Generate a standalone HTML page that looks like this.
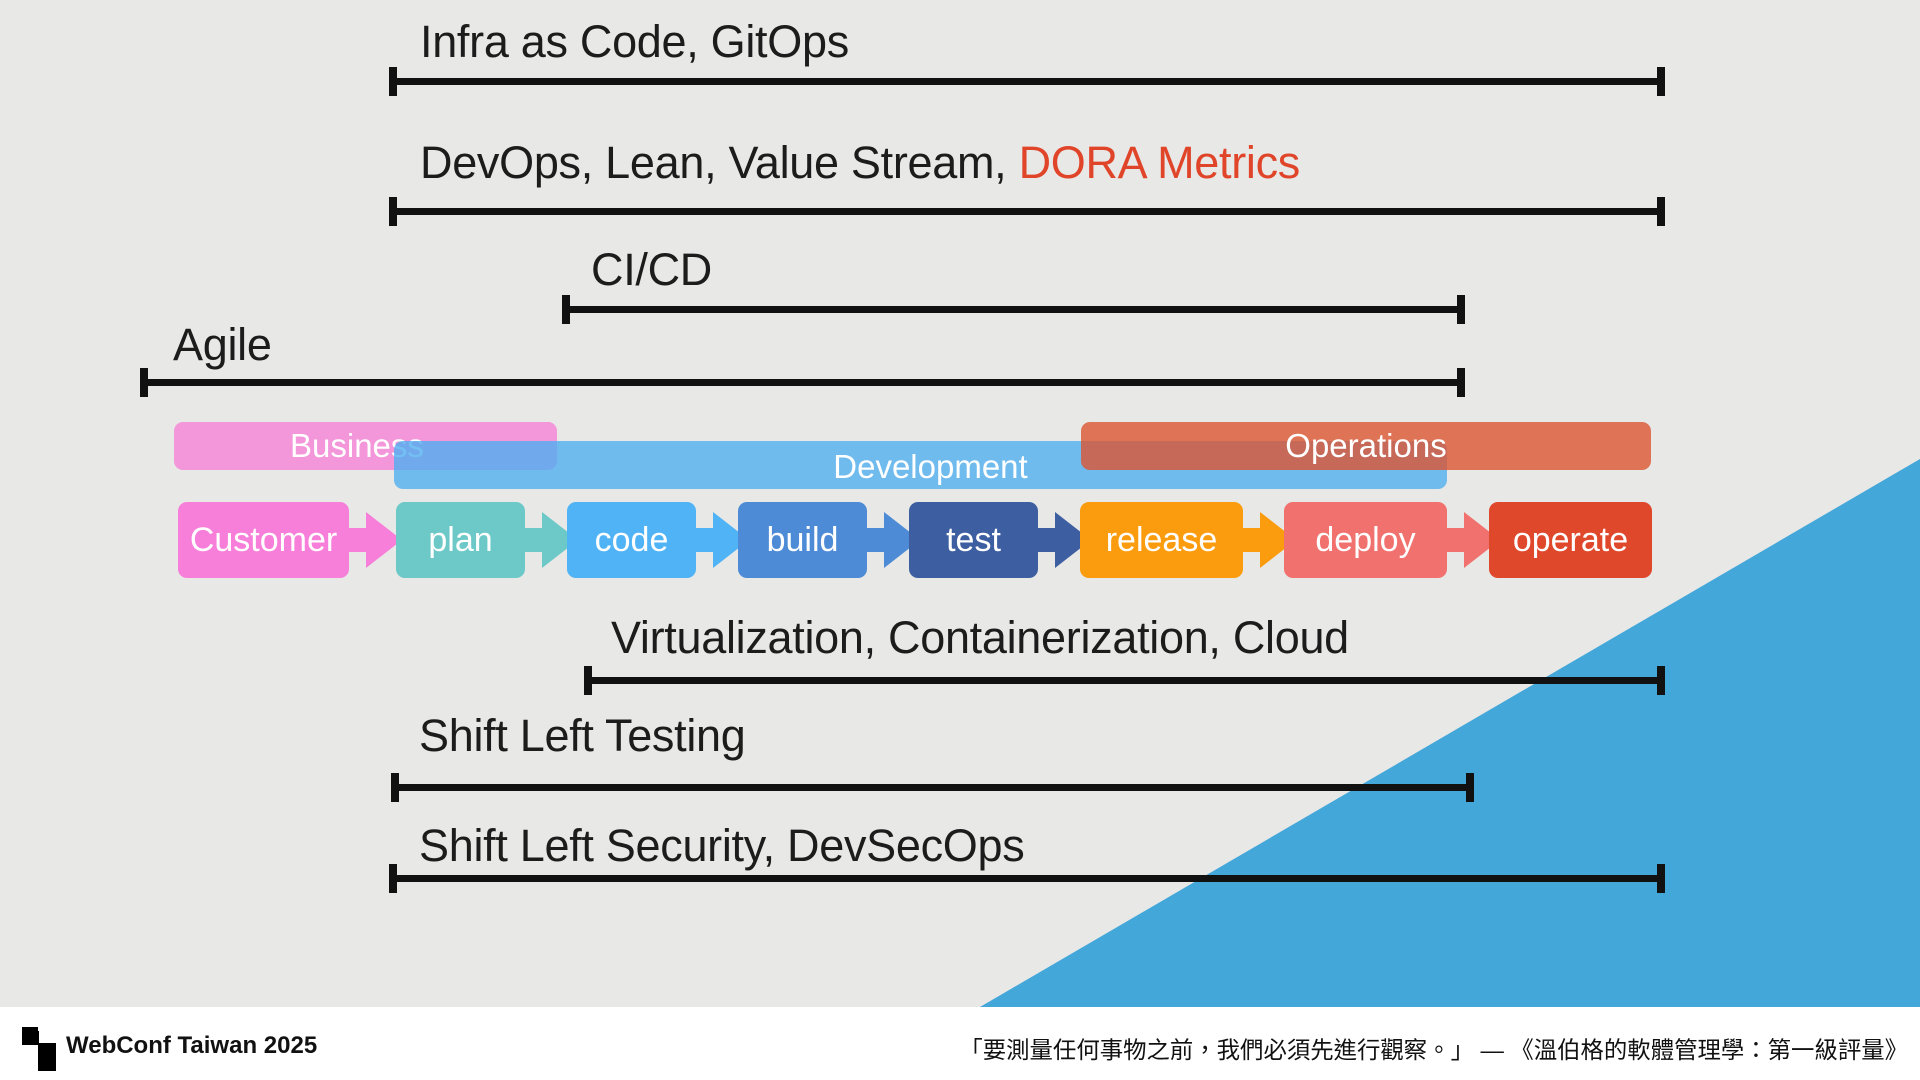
<!DOCTYPE html>
<html><head><meta charset="utf-8"><style>
*{margin:0;padding:0;box-sizing:border-box}
body{width:1920px;height:1080px;position:relative;overflow:hidden;background:#e8e8e6;font-family:"Liberation Sans",sans-serif}
.t{position:absolute;font-size:45px;color:#1c1c1c;line-height:1;white-space:nowrap;letter-spacing:-0.3px}
.ln{position:absolute;height:7px;background:#111}
.ln:before,.ln:after{content:"";position:absolute;top:-11px;width:8px;height:29px;background:#111}
.ln:before{left:0}.ln:after{right:0}
.bar{position:absolute;border-radius:9px;color:#fff;font-size:33px;display:flex;align-items:center;justify-content:center}
.box{position:absolute;top:502px;height:76px;border-radius:9px;color:#fff;font-size:34px;display:flex;align-items:center;justify-content:center}
.foot{position:absolute;left:0;top:1007px;width:1920px;height:73px;background:#fff}
</style></head><body>
<svg style="position:absolute;left:0;top:0" width="1920" height="1080"><polygon points="980,1007 1920,459 1920,1007" fill="#44a7da"/></svg>

<div class="t" style="left:420px;top:19px">Infra as Code, GitOps</div>
<div class="ln" style="left:389px;top:78px;width:1276px"></div>
<div class="t" style="left:420px;top:140px">DevOps, Lean, Value Stream, <span style="color:#e0452a">DORA Metrics</span></div>
<div class="ln" style="left:389px;top:208px;width:1276px"></div>
<div class="t" style="left:591px;top:247px">CI/CD</div>
<div class="ln" style="left:562px;top:306px;width:903px"></div>
<div class="t" style="left:173px;top:322px">Agile</div>
<div class="ln" style="left:140px;top:379px;width:1325px"></div>

<div class="bar" style="left:174px;top:422px;width:383px;height:48px;background:rgba(245,135,215,0.85);justify-content:flex-start;padding-left:116px;align-items:flex-start;padding-top:5px">Business</div>
<div class="bar" style="left:394px;top:441px;width:1053px;height:48px;background:rgba(80,175,240,0.8);padding-left:20px;padding-top:4px">Development</div>
<div class="bar" style="left:1081px;top:422px;width:570px;height:48px;background:rgba(220,85,50,0.8);align-items:flex-start;padding-top:5px">Operations</div>

<svg style="position:absolute;left:0;top:0" width="1920" height="1080">
<g>
<rect x="345" y="528" width="25" height="24" fill="#f77fd9"/><polygon points="366,512 402,540 366,568" fill="#f77fd9"/>
<rect x="521" y="528" width="25" height="24" fill="#6dc8c8"/><polygon points="542,512 578,540 542,568" fill="#6dc8c8"/>
<rect x="692" y="528" width="25" height="24" fill="#4fb3f5"/><polygon points="713,512 749,540 713,568" fill="#4fb3f5"/>
<rect x="863" y="528" width="25" height="24" fill="#4d8bd6"/><polygon points="884,512 920,540 884,568" fill="#4d8bd6"/>
<rect x="1034" y="528" width="25" height="24" fill="#3d5ea0"/><polygon points="1055,512 1091,540 1055,568" fill="#3d5ea0"/>
<rect x="1239" y="528" width="25" height="24" fill="#fb9c0e"/><polygon points="1260,512 1296,540 1260,568" fill="#fb9c0e"/>
<rect x="1443" y="528" width="25" height="24" fill="#f0716e"/><polygon points="1464,512 1500,540 1464,568" fill="#f0716e"/>
</g></svg>
<div class="box" style="left:178px;width:171px;background:#f77fd9">Customer</div>
<div class="box" style="left:396px;width:129px;background:#6dc8c8">plan</div>
<div class="box" style="left:567px;width:129px;background:#4fb3f5">code</div>
<div class="box" style="left:738px;width:129px;background:#4d8bd6">build</div>
<div class="box" style="left:909px;width:129px;background:#3d5ea0">test</div>
<div class="box" style="left:1080px;width:163px;background:#fb9c0e">release</div>
<div class="box" style="left:1284px;width:163px;background:#f0716e">deploy</div>
<div class="box" style="left:1489px;width:163px;background:#e0482c">operate</div>

<div class="t" style="left:611px;top:615px">Virtualization, Containerization, Cloud</div>
<div class="ln" style="left:584px;top:677px;width:1081px"></div>
<div class="t" style="left:419px;top:713px">Shift Left Testing</div>
<div class="ln" style="left:391px;top:784px;width:1083px"></div>
<div class="t" style="left:419px;top:823px">Shift Left Security, DevSecOps</div>
<div class="ln" style="left:389px;top:875px;width:1276px"></div>

<div class="foot">
<div style="position:absolute;left:22px;top:20px;width:16px;height:16px;background:#000"></div>
<div style="position:absolute;left:38px;top:36px;width:18px;height:28px;background:#000"></div>
<div style="position:absolute;left:22px;top:24px;width:34px;height:14px;background:#000;clip-path:polygon(0 0,50% 0,50% 100%,0 100%)"></div>
<div style="position:absolute;left:66px;top:25px;font-size:24px;font-weight:bold;color:#111">WebConf Taiwan 2025</div>
<div style="position:absolute;right:12px;top:24px;font-size:23.4px;color:#111;font-family:'Liberation Sans','Noto Sans CJK TC',sans-serif;white-space:nowrap">「要測量任何事物之前，我們必須先進行觀察。」 — 《溫伯格的軟體管理學：第一級評量》</div>
</div>
</body></html>
